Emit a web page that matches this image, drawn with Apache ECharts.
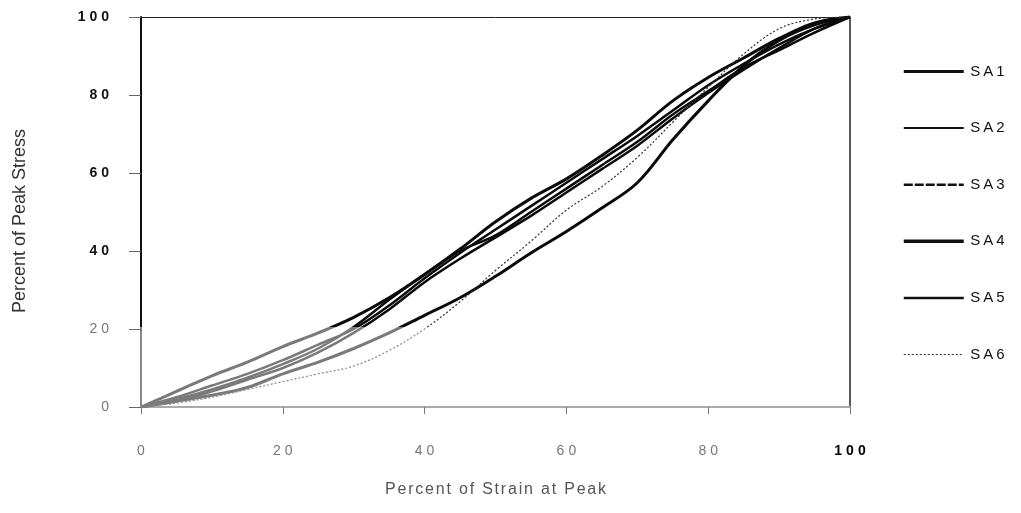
<!DOCTYPE html>
<html>
<head>
<meta charset="utf-8">
<script src="https://cdn.jsdelivr.net/npm/echarts@6/dist/echarts.min.js"></script>
<style>
  html, body { margin: 0; padding: 0; background: #fff; }
  #chart { width: 1021px; height: 513px; }
</style>
</head>
<body>
<div id="chart"></div>
<script>
// Stress-strain curves normalised to the peak point
const strain = [0, 5, 10, 15, 20, 25, 30, 35, 40, 45, 50, 55, 60, 65, 70, 75, 80, 85, 90, 95, 100];
const sa1 = [0, 4, 8, 11.5, 15.5, 19, 23, 28, 34, 40.5, 47.5, 53.5, 58.5, 64.5, 71, 78.5, 84.5, 89.5, 94.5, 98.5, 100];
const sa2 = [0, 2.5, 5.5, 8.5, 12, 16, 20, 26, 33, 39.5, 45.5, 51.5, 57.5, 63.5, 69.5, 76, 82.5, 88, 93, 97, 100];
const sa3 = [0, 2, 4.5, 7.5, 11, 15, 20.5, 27.5, 34, 40, 44, 50, 56, 62, 68, 75, 81, 87, 91.5, 96, 100];
const sa4 = [0, 1.5, 3, 5, 8.5, 11.5, 15, 19, 23.5, 28, 33.5, 39.5, 45, 51, 57.5, 68.5, 78.5, 87.5, 94, 98, 100];
const sa5 = [0, 1.5, 4, 7, 10, 14, 19, 25, 32, 38, 43.5, 49, 55, 61, 67, 74, 80.5, 86.5, 92, 97, 100];
const sa6 = [0, 1, 2.5, 4.5, 6.5, 8.5, 10.5, 14.5, 20, 27, 35, 42.5, 50.5, 56.5, 64, 73, 82, 90.5, 97, 99.5, 100];
const seriesNames = ['SA1', 'SA2', 'SA3', 'SA4', 'SA5', 'SA6'];

const chart = echarts.init(document.getElementById('chart'));

// ink fades to grey in the lower band of the plot
const SPLIT = 327 / 513;
function ink(dark, light) {
  return new echarts.graphic.LinearGradient(0, 0, 0, 513, [
    { offset: 0, color: dark },
    { offset: SPLIT, color: dark },
    { offset: SPLIT, color: light },
    { offset: 1, color: light }
  ], true);
}

// spread characters apart using rich-text fragments
function spaced(text, key) {
  return text.split('').map(ch => '{' + key + '|' + ch + '}').join('');
}

const pairs = ys => strain.map((x, i) => [x, ys[i]]);

const styles = [
  { width: 3, type: 'solid' },
  { width: 2.5, type: 'solid' },
  { width: 2.5, type: 'solid' },
  { width: 3, type: 'solid' },
  { width: 2.5, type: 'solid' },
  { width: 1.2, type: [2, 2] }
];
const legendStyles = [
  { width: 3, type: 'solid', color: '#111' },
  { width: 2, type: 'solid', color: '#111' },
  { width: 2.5, type: [9, 2], color: '#111' },
  { width: 3.5, type: 'solid', color: '#111' },
  { width: 2.5, type: 'solid', color: '#111' },
  { width: 1.2, type: [2, 2], color: '#333' }
];
const values = [sa1, sa2, sa3, sa4, sa5, sa6];

const series = seriesNames.map((name, i) => ({
  name: name,
  type: 'line',
  data: pairs(values[i]),
  smooth: 0.35,
  symbol: 'none',
  lineStyle: {
    width: styles[i].width,
    type: styles[i].type,
    color: i === 5 ? ink('#333', '#888') : ink('#0a0a0a', '#7a7a7a')
  },
  itemStyle: { color: '#111' },
  z: 3
}));

const FONT = 'Liberation Sans, Arial';
const digit = (color, weight) => ({ fontFamily: FONT, fontSize: 14, fontWeight: weight, color: color, padding: [0, 2, 0, 2] });

chart.setOption({
  animation: false,
  backgroundColor: '#fff',
  grid: { left: 141, right: 171, top: 17, bottom: 106 },
  legend: {
    orient: 'vertical',
    left: 902,
    top: 64,
    padding: 0,
    itemWidth: 60,
    itemHeight: 14,
    itemGap: 41.6,
    itemStyle: { opacity: 0 },
    data: seriesNames.map((n, i) => ({ name: n, lineStyle: legendStyles[i] })),
    formatter: n => spaced(n, 'l'),
    textStyle: {
      rich: {
        l: { fontFamily: FONT, fontSize: 15, color: '#111', padding: [0, 1.5, 0, 1.5] }
      }
    }
  },
  xAxis: [{
    type: 'value',
    min: 0, max: 100, interval: 20,
    name: spaced('Percent of Strain at Peak', 'n'),
    nameLocation: 'middle',
    nameGap: 75,
    nameTextStyle: {
      rich: {
        n: { fontFamily: FONT, fontSize: 16, color: '#555', padding: [0, 0.9, 0, 0.9] }
      }
    },
    axisLine: { show: true, onZero: false, lineStyle: { color: '#aaa', width: 2 } },
    axisTick: { show: true, inside: false, length: 7, lineStyle: { color: '#777', width: 1 } },
    splitLine: { show: false },
    axisLabel: {
      margin: 37,
      formatter: v => spaced(String(v), v === 100 ? 'k' : 'd'),
      rich: {
        d: digit('#777', 'normal'),
        k: digit('#000', 'bold')
      }
    }
  }, {
    type: 'value', position: 'top', min: 0, max: 100,
    axisLine: { show: true, onZero: false, lineStyle: { color: '#222', width: 1 } },
    axisTick: { show: false }, axisLabel: { show: false }, splitLine: { show: false }
  }],
  yAxis: [{
    type: 'value',
    min: 0, max: 100, interval: 20,
    name: 'Percent of Peak Stress',
    nameLocation: 'middle',
    nameGap: 112,
    nameTextStyle: {
      fontFamily: FONT, fontSize: 18, color: '#333', padding: [0, 18, 0, 0]
    },
    axisLine: { show: true, onZero: false, lineStyle: { color: ink('#111', '#888'), width: 2 } },
    axisTick: { show: true, inside: false, length: 12, lineStyle: { color: '#666', width: 1 } },
    splitLine: { show: false },
    axisLabel: {
      margin: 30,
      formatter: v => spaced(String(v), v >= 40 ? 'k' : 'g'),
      rich: {
        k: digit('#111', 'bold'),
        g: digit('#777', 'normal')
      }
    }
  }, {
    type: 'value', position: 'right', min: 0, max: 100,
    axisLine: { show: true, onZero: false, lineStyle: { color: '#222', width: 1.5 } },
    axisTick: { show: false }, axisLabel: { show: false }, splitLine: { show: false }
  }],
  series: series
});
</script>
</body>
</html>
